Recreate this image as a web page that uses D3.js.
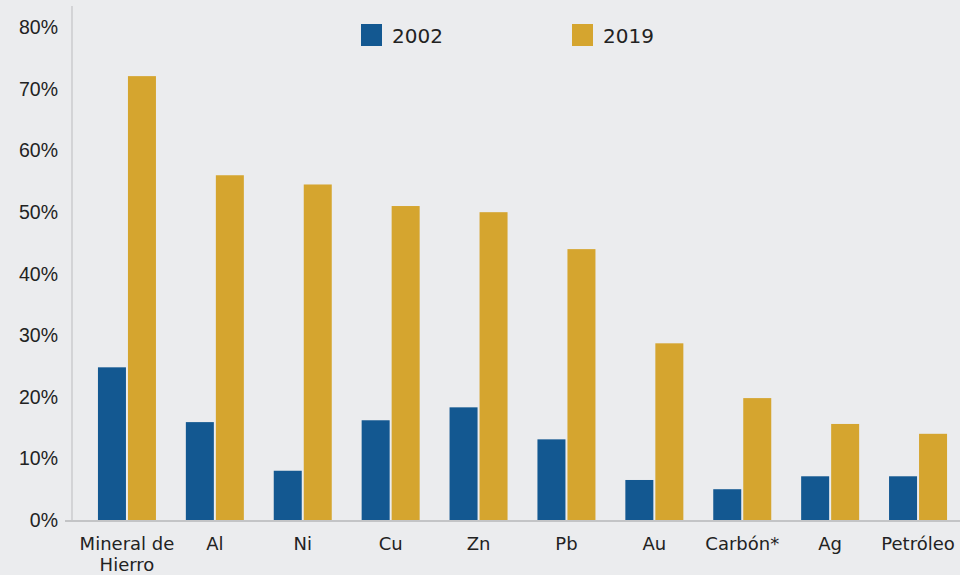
<!DOCTYPE html>
<html>
<head>
<meta charset="utf-8">
<script src="https://d3js.org/d3.v7.min.js"></script>
<style>
  body { margin: 0; background: #ebecee; }
  svg { display: block; font-family: "DejaVu Sans", "Open Sans", sans-serif; }
</style>
</head>
<body>
<div id="chart"></div>
<script>
// data
var categories = ["Mineral de Hierro", "Al", "Ni", "Cu", "Zn", "Pb", "Au", "Carbón*", "Ag", "Petróleo"];
var series = ["2002", "2019"];
var values2002 = [24.8, 15.9, 8.0, 16.2, 18.3, 13.1, 6.5, 5.0, 7.1, 7.1];
var values2019 = [72.1, 56.0, 54.5, 51.0, 50.0, 44.0, 28.7, 19.8, 15.6, 14.0];
var yTicks = [0, 10, 20, 30, 40, 50, 60, 70, 80];
var colors = ["#135891", "#d5a52f"];

var width = 960, height = 575;

var svg = d3.select("#chart")
  .append("svg")
    .attr("width", width)
    .attr("height", height);

var x = d3.scaleBand()
  .domain(categories)
  .range([83, 962])
  .padding(0);

// two bars of ~28px with a 2px gap
var xInner = d3.scaleBand()
  .domain(series)
  .range([-29, 29])
  .paddingInner(2 / 30);

var y = d3.scaleLinear()
  .domain([0, 80])
  .range([520, 27.5]);

// y axis
var yAxis = svg.append("g")
  .attr("transform", "translate(72,0)")
  .call(d3.axisLeft(y).tickValues(yTicks).tickFormat(function(d) { return d + "%"; }).tickSize(0).tickPadding(14));
yAxis.select(".domain").remove();
yAxis.selectAll("text")
  .attr("fill", "#222")
  .style("font-size", "19.5px")
  .style("font-family", "inherit");

svg.append("line")
  .attr("x1", 72).attr("x2", 72)
  .attr("y1", 6).attr("y2", 521)
  .attr("stroke", "#c3c4c6").attr("stroke-width", 1.2);

// bars
var data = categories.map(function(c, i) {
  return { cat: c, vals: [values2002[i], values2019[i]] };
});

var groups = svg.selectAll("g.grp")
  .data(data)
  .enter().append("g")
    .attr("class", "grp")
    .attr("transform", function(d) { return "translate(" + (x(d.cat) + x.bandwidth() / 2) + ",0)"; });

groups.selectAll("rect")
  .data(function(d) { return d.vals.map(function(v, j) { return { s: series[j], v: v, j: j }; }); })
  .enter().append("rect")
    .attr("x", function(d) { return xInner(d.s); })
    .attr("width", xInner.bandwidth())
    .attr("y", function(d) { return y(d.v); })
    .attr("height", function(d) { return y(0) - y(d.v); })
    .attr("fill", function(d) { return colors[d.j]; });

// x axis baseline
svg.append("line")
  .attr("x1", 65).attr("x2", 960)
  .attr("y1", 521).attr("y2", 521)
  .attr("stroke", "#c3c4c6").attr("stroke-width", 2);

// category labels
var xLabels = svg.append("g").selectAll("text")
  .data(categories)
  .enter().append("text")
    .attr("text-anchor", "middle")
    .attr("fill", "#222")
    .style("font-size", "18px")
    .attr("transform", function(d) { return "translate(" + (x(d) + x.bandwidth() / 2) + ",550)"; });

xLabels.each(function(d) {
  var t = d3.select(this);
  if (d === "Mineral de Hierro") {
    t.append("tspan").attr("x", 0).attr("y", 0).text("Mineral de");
    t.append("tspan").attr("x", 0).attr("y", 21).text("Hierro");
  } else {
    t.text(d);
  }
});

// legend
var legendX = [361, 572];
var legend = svg.selectAll("g.legend")
  .data(series)
  .enter().append("g")
    .attr("class", "legend")
    .attr("transform", function(d, i) { return "translate(" + legendX[i] + ",24)"; });

legend.append("rect")
  .attr("width", 21).attr("height", 22)
  .attr("fill", function(d, i) { return colors[i]; });

legend.append("text")
  .attr("x", 31).attr("y", 19)
  .attr("fill", "#222")
  .style("font-size", "20px")
  .text(function(d) { return d; });
</script>
</body>
</html>
